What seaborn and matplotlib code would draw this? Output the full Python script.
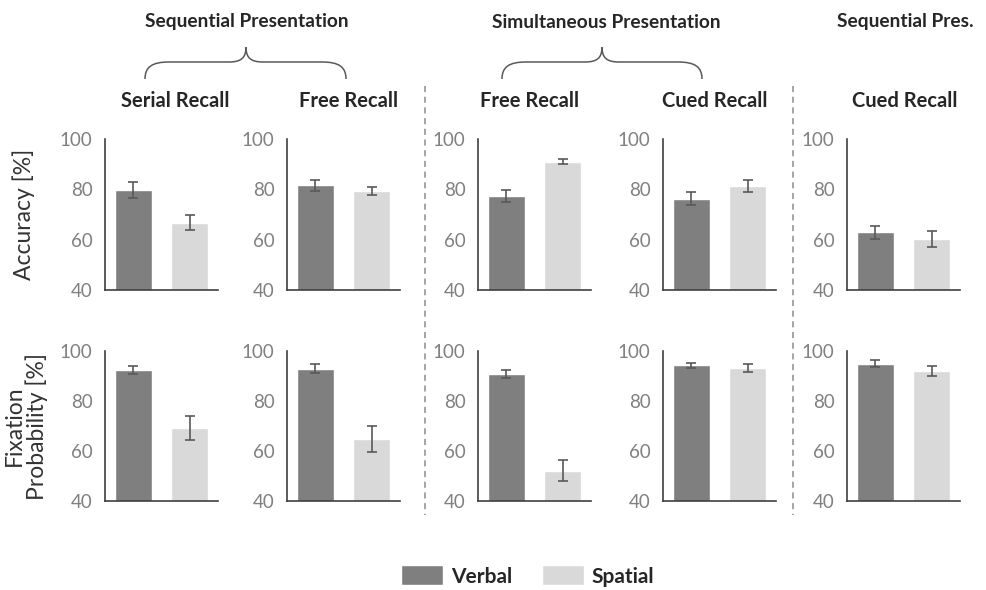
import numpy as np
import pandas as pd
import seaborn as sns
import matplotlib.pyplot as plt
from matplotlib.path import Path
from matplotlib.patches import PathPatch, Patch

## data
conditions = ["Verbal", "Spatial"]
panel_titles = ["Serial Recall", "Free Recall", "Free Recall", "Cued Recall", "Cued Recall"]
verbal_acc = [79.7, 81.6, 77.5, 76.3, 62.9]
verbal_acc_err = [3.3, 2.3, 2.4, 2.7, 2.7]
spatial_acc = [66.7, 79.5, 91.0, 81.2, 60.2]
spatial_acc_err = [3.0, 1.6, 1.0, 2.4, 3.1]
verbal_fix = [92.5, 93.0, 90.9, 94.3, 95.0]
verbal_fix_err = [1.7, 1.8, 1.5, 0.9, 1.3]
spatial_fix = [69.2, 64.8, 52.1, 93.2, 92.0]
spatial_fix_err = [4.7, 5.2, 4.2, 1.7, 1.9]
y_ticks = [40, 60, 80, 100]

dark = "#7f7f7f"
light = "#d9d9d9"

sns.set_style("white")
plt.rcParams['font.family'] = ['Lato', 'DejaVu Sans']

W, H = 987, 590
fig = plt.figure(figsize=(W / 100, H / 100), dpi=100)

lefts = [105, 287, 478, 663, 847]
rows = [(139, 290), (351, 501)]
row_data = [(verbal_acc, verbal_acc_err, spatial_acc, spatial_acc_err),
            (verbal_fix, verbal_fix_err, spatial_fix, spatial_fix_err)]
ylabels = ["Accuracy [%]", "Fixation\nProbability [%]"]

for r, (top, bot) in enumerate(rows):
    v, ve, s, se = row_data[r]
    for c, lx in enumerate(lefts):
        ax = fig.add_axes([lx / W, 1 - bot / H, 113 / W, (bot - top) / H])
        df = pd.DataFrame({"cond": conditions, "val": [v[c], s[c]]})
        sns.barplot(data=df, x="cond", y="val", hue="cond", palette=[dark, light],
                    width=0.65, ax=ax, legend=False)
        ax.errorbar([0, 1], [v[c], s[c]], yerr=[ve[c], se[c]], fmt="none",
                    ecolor="#595959", elinewidth=1.2, capsize=3.5, capthick=1.2)
        ax.set_ylim(40, 100)
        ax.set_xlim(-0.5, 1.5)
        ax.set_yticks(y_ticks)
        ax.set_xticks([])
        ax.set_xlabel("")
        ax.set_ylabel("")
        ax.tick_params(axis="y", length=0, pad=9, labelsize=13.5, labelcolor="#808080")
        for sp in ["top", "right"]:
            ax.spines[sp].set_visible(False)
        for sp in ["left", "bottom"]:
            ax.spines[sp].set_color("#404040")
            ax.spines[sp].set_linewidth(1.2)

# overlay for text, braces and separators
ov = fig.add_axes([0, 0, 1, 1])
ov.set_xlim(0, W)
ov.set_ylim(H, 0)
ov.axis("off")
ov.patch.set_alpha(0)

ov.text(24, 214, ylabels[0], rotation=90, ha="center", va="center", fontsize=16.5, color="#333333")
ov.text(26, 426, ylabels[1], rotation=90, ha="center", va="center", fontsize=16.5,
        color="#333333", linespacing=1.05, multialignment="center")

sub_x = [175, 349, 530, 715, 905]
for t, x in zip(panel_titles, sub_x):
    ov.text(x, 101, t, ha="center", va="center", fontsize=14.5, fontweight="bold")

groups = [("Sequential Presentation", 247), ("Simultaneous Presentation", 606), ("Sequential Pres.", 905)]
for t, x in groups:
    ov.text(x, 22, t, ha="center", va="center", fontsize=13.8, fontweight="bold")


def brace(x0, x1, xm):
    verts = [(x0, 79), (x0, 67), (x0 + 7, 62), (x0 + 24, 62),
             (xm - 17, 62), (xm - 5, 62), (xm, 58), (xm, 47),
             (xm, 58), (xm + 5, 62), (xm + 17, 62),
             (x1 - 24, 62), (x1 - 7, 62), (x1, 67), (x1, 79)]
    codes = [Path.MOVETO, Path.CURVE4, Path.CURVE4, Path.CURVE4,
             Path.LINETO, Path.CURVE4, Path.CURVE4, Path.CURVE4,
             Path.CURVE4, Path.CURVE4, Path.CURVE4,
             Path.LINETO, Path.CURVE4, Path.CURVE4, Path.CURVE4]
    ov.add_patch(PathPatch(Path(verts, codes), fill=False, edgecolor="#595959", lw=1.1))


brace(145, 346, 246)
brace(502, 702, 602)

for x in [425, 793]:
    ov.plot([x, x], [86, 515], color="#8c8c8c", lw=1.1, ls=(0, (4, 3)))

handles = [Patch(facecolor=dark, label="Verbal"), Patch(facecolor=light, label="Spatial")]
fig.legend(handles=handles, loc="center", bbox_to_anchor=(528 / W, 1 - 576 / H), ncol=2,
           frameon=False, prop={"weight": "bold", "size": 15}, handlelength=2.0,
           handleheight=1.1, columnspacing=1.4, handletextpad=0.4)

fig.savefig("out.png", dpi=100)
